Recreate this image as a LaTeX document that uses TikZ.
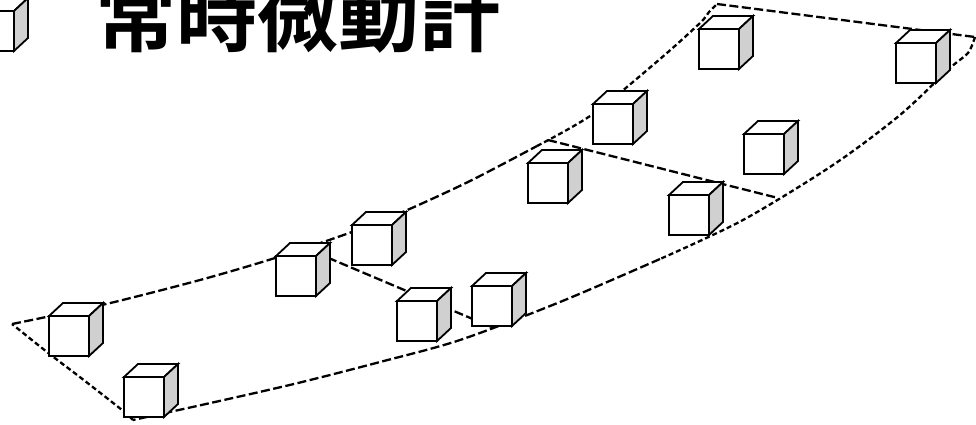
\documentclass[tikz,border=0pt]{standalone}
\usepackage{fontspec}
\newfontfamily\cjk{Noto Sans CJK JP}[BoldFont={Noto Sans CJK JP Bold}]
\definecolor{sidegray}{RGB}{208,208,208}
\begin{document}
\begin{tikzpicture}[x=1pt,y=-1pt,
  band/.style={line width=2.3pt, dash pattern=on 9pt off 3.5pt},
  bandsteep/.style={line width=2.3pt, dash pattern=on 5pt off 3pt},
  cubeline/.style={line width=1.8pt, line join=miter},
  sensor/.pic={
    \filldraw[cubeline, fill=white] (0,0) rectangle (40,40);
    \filldraw[cubeline, fill=white] (0,0) -- (14,-13) -- (54,-13) -- (40,0) -- cycle;
    \filldraw[cubeline, fill=sidegray] (40,0) -- (54,-13) -- (54,27) -- (40,40) -- cycle;
  }]
\useasboundingbox (0,0) rectangle (976,425);

% corners of the measured ground strip
\coordinate (A) at (12,324);
\coordinate (B) at (133,420);
\coordinate (C) at (975,37);
\coordinate (D) at (717,4);

% outline of the strip
\draw[band] plot[smooth, tension=0.5] coordinates {(12,324) (102,305) (200,280) (275,258) (352,232) (405,211) (470,181) (537,146)};
\draw[bandsteep] plot[smooth, tension=0.5] coordinates {(537,146) (593,114) (660,59) (700,23) (709,12) (717,4)};
\draw[band] (D) -- (C);
\draw[bandsteep] plot[smooth, tension=0.5] coordinates {(975,37) (968,53) (950,68) (900,115) (833,165) (743,220) (660,259)};
\draw[band] plot[smooth, tension=0.5] coordinates {(660,259) (560,302) (460,340) (380,362) (298,383) (215,402) (133,420)};
\draw[bandsteep] plot[smooth, tension=0.5] coordinates {(133,420) (122,410) (85,381) (47,352) (12,324)};

% cross lines
\coordinate (p1) at (305,248);
\coordinate (q1) at (494,328);
\coordinate (p2) at (548,140);
\coordinate (q2) at (778,198);
\draw[band] (p1) -- (q1);
\draw[band] (p2) -- (q2);

% sensors
\coordinate (s0) at (-26,11);
\coordinate (s1) at (49,316);
\coordinate (s2) at (124,377);
\coordinate (s3) at (276,256);
\coordinate (s4) at (352,225);
\coordinate (s5) at (397,301);
\coordinate (s6) at (472,286);
\coordinate (s7) at (699,29);
\coordinate (s8) at (896,43);
\coordinate (s9) at (593,104);
\coordinate (s10) at (528,163);
\coordinate (s11) at (744,134);
\coordinate (s12) at (669,195);
\foreach \s in {s0,s1,s2,s3,s4,s5,s6,s7,s8,s9,s10,s11,s12}
  \pic at (\s) {sensor};

% title
\node[anchor=base west, inner sep=0pt, font=\fontsize{81}{81}\cjk\bfseries] (title) at (95,46) {常時微動計};
\end{tikzpicture}
\end{document}
